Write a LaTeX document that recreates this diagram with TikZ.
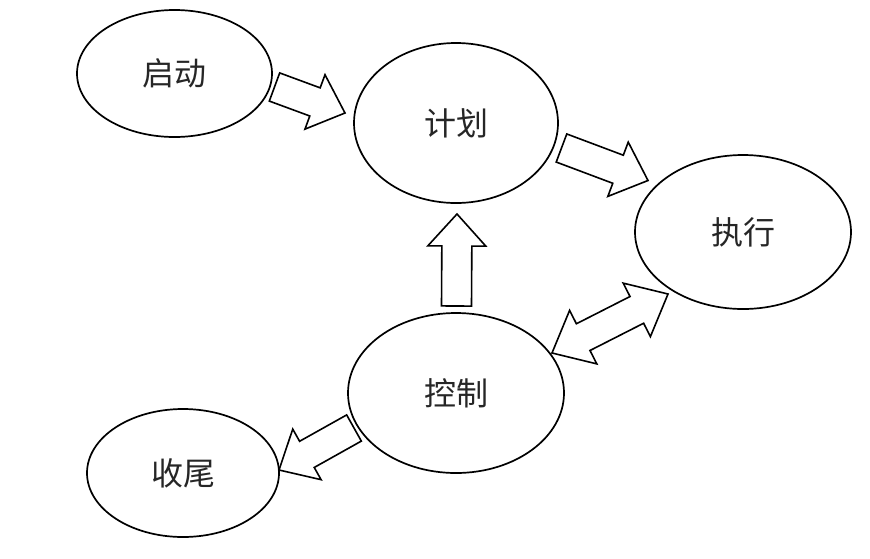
\documentclass[tikz,border=0pt]{standalone}
\usepackage{fontspec}
\newfontfamily\cjk{Noto Sans CJK SC}
\usetikzlibrary{shapes.geometric,calc}
\tikzset{
  stage/.style={ellipse, draw, line width=1.7pt, inner sep=0pt, font=\cjk\fontsize{32}{32}\selectfont, text=black!85},
  barrow/.style={draw, line width=1.6pt, line join=miter, fill=white}
}
\newcommand\blockarr[3]{%
  \coordinate (#3h) at ($(#2)!32pt!(#1)$);
  \draw[barrow] ($(#1)!15pt!90:(#2)$) -- ($(#3h)!15pt!90:(#2)$) -- ($(#3h)!29pt!90:(#2)$) -- (#2)
    -- ($(#3h)!29pt!-90:(#2)$) -- ($(#3h)!15pt!-90:(#2)$) -- ($(#1)!15pt!-90:(#2)$) -- cycle;}
\newcommand\dblockarr[3]{%
  \coordinate (#3a) at ($(#1)!35pt!(#2)$);
  \coordinate (#3b) at ($(#2)!35pt!(#1)$);
  \draw[barrow] (#1) -- ($(#3a)!30pt!90:(#2)$) -- ($(#3a)!15pt!90:(#2)$) -- ($(#3b)!15pt!90:(#2)$)
    -- ($(#3b)!30pt!90:(#2)$) -- (#2) -- ($(#3b)!30pt!-90:(#2)$) -- ($(#3b)!15pt!-90:(#2)$)
    -- ($(#3a)!15pt!-90:(#2)$) -- ($(#3a)!30pt!-90:(#2)$) -- cycle;}
\begin{document}
\begin{tikzpicture}[x=1pt,y=-1pt]
\useasboundingbox (0,0) rectangle (870,558);
\node[stage, minimum width=195pt, minimum height=127pt] (qd) at (174.5,73.5) {启动};
\node[stage, minimum width=204pt, minimum height=160pt] (jh) at (456,123) {计划};
\node[stage, minimum width=216pt, minimum height=154pt] (zx) at (743,232) {执行};
\node[stage, minimum width=216pt, minimum height=160pt] (kz) at (456,393) {控制};
\node[stage, minimum width=192pt, minimum height=128pt] (sw) at (183,473) {收尾};
% arrow end points
\coordinate (a1s) at (274.5,87);
\coordinate (a1t) at (345,113);
\coordinate (a2s) at (561.5,148);
\coordinate (a2t) at (648,180.5);
\coordinate (a3s) at (456.5,306);
\coordinate (a3t) at (457,214);
\coordinate (a4s) at (552,353);
\coordinate (a4t) at (668,294);
\coordinate (a5s) at (354,428);
\coordinate (a5t) at (279,470);
\blockarr{a1s}{a1t}{ar1}
\blockarr{a2s}{a2t}{ar2}
\blockarr{a3s}{a3t}{ar3}
\dblockarr{a4s}{a4t}{ar4}
\blockarr{a5s}{a5t}{ar5}
\end{tikzpicture}
\end{document}
